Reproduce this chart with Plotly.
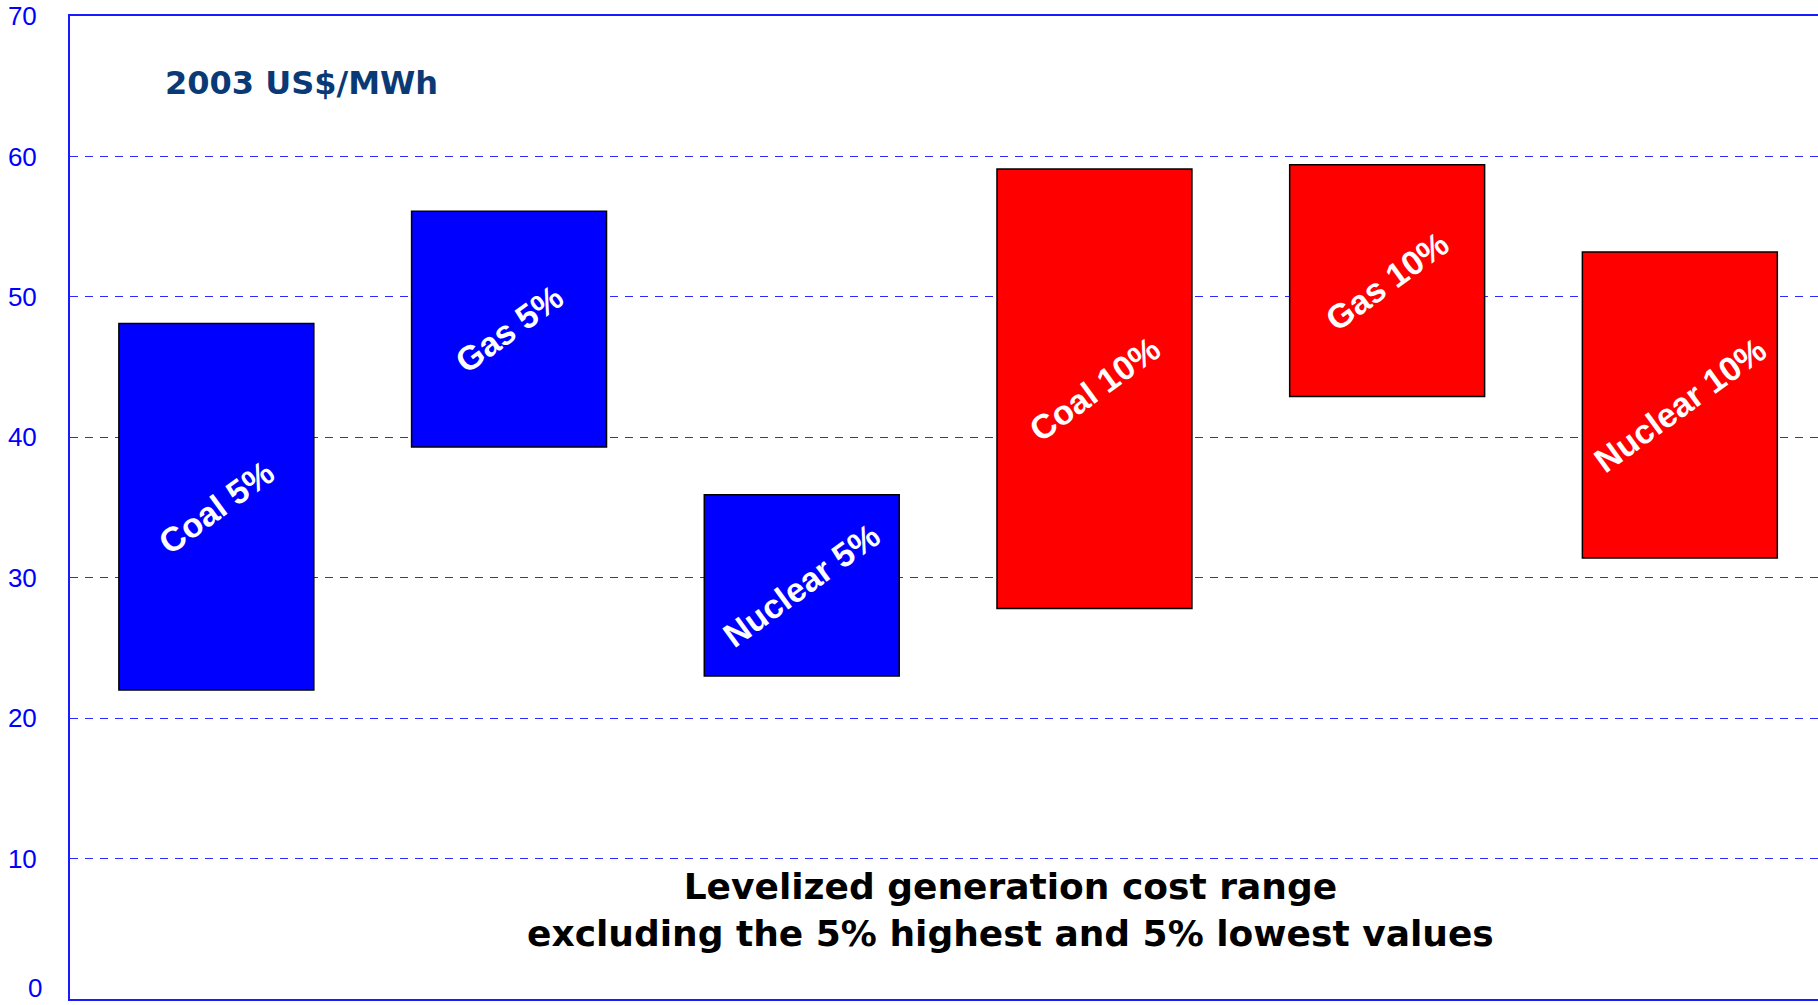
import plotly.graph_objects as go

categories = ["Coal 5%", "Gas 5%", "Nuclear 5%", "Coal 10%", "Gas 10%", "Nuclear 10%"]
low_values = [22.0, 39.3, 23.0, 27.8, 42.9, 31.4]
high_values = [48.1, 56.1, 35.9, 59.1, 59.4, 53.2]
bar_colors = ["#0000ff", "#0000ff", "#0000ff", "#ff0000", "#ff0000", "#ff0000"]
y_ticks = [0, 10, 20, 30, 40, 50, 60, 70]

heights = [h - l for h, l in zip(high_values, low_values)]
mids = [(h + l) / 2 for h, l in zip(high_values, low_values)]

fig = go.Figure()
fig.add_trace(go.Bar(
    x=categories, y=heights, base=low_values,
    marker=dict(color=bar_colors, line=dict(color="#000000", width=1.5)),
    width=0.666, hoverinfo="skip", showlegend=False,
))

for c, m in zip(categories, mids):
    fig.add_annotation(x=c, y=m, text=c, showarrow=False, textangle=-36,
                       font=dict(family="Liberation Sans, Arial", size=34, color="white", weight="bold"))

fig.add_annotation(xref="paper", yref="paper", x=(163 - 70) / 1748, y=(999 - 83) / 983,
                   xanchor="left", yanchor="middle", text="<b>2003 US$/MWh</b>", showarrow=False,
                   font=dict(family="DejaVu Sans, Verdana", size=32, color="#0a3a75"))

fig.add_annotation(xref="paper", yref="paper", x=(1010 - 70) / 1748, y=(999 - 910) / 983,
                   xanchor="center", yanchor="middle",
                   text="<b>Levelized generation cost range<br>excluding the 5% highest and 5% lowest values</b>",
                   showarrow=False, align="center",
                   font=dict(family="DejaVu Sans, Verdana", size=36, color="#000000"))

# "0" tick label at the bottom edge
fig.add_annotation(xref="paper", yref="y", x=0, y=y_ticks[0], xanchor="right", yanchor="bottom",
                   xshift=-26, yshift=-6, text=str(y_ticks[0]), showarrow=False,
                   font=dict(family="Liberation Sans, Arial", size=26, color="#0000ff"))

fig.update_layout(
    width=1818, height=1005,
    margin=dict(l=70, r=0, t=16, b=6),
    paper_bgcolor="white", plot_bgcolor="white",
    bargap=0.334,
    xaxis=dict(range=[-0.5, -0.5 + 1748 / 292.7], showticklabels=False, showgrid=False,
               showline=True, mirror=True, linecolor="#1a1aff", linewidth=2, zeroline=False,
               fixedrange=True),
    yaxis=dict(range=[0, 70], tickvals=y_ticks[1:], showline=True, linecolor="#1a1aff", linewidth=2,
               showgrid=True, gridcolor="#2a2aff", gridwidth=1, griddash="8px,7px",
               zeroline=False, ticks="", ticklabelstandoff=26,
               tickfont=dict(family="Liberation Sans, Arial", size=26, color="#0000ff")),
)

fig.write_html("out.html")
